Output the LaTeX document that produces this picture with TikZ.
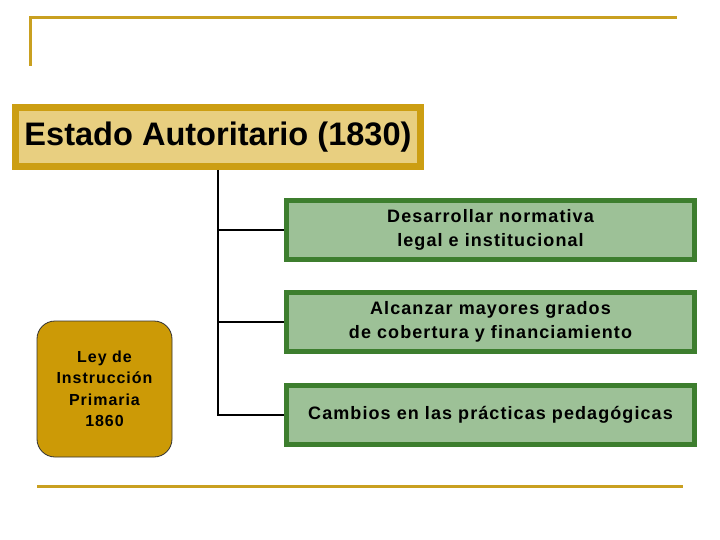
\documentclass[tikz,border=0pt]{standalone}
\usepackage{fontspec}
\setmainfont{Liberation Sans}
\definecolor{goldline}{HTML}{C9A020}
\definecolor{goldborder}{HTML}{CC9E12}
\definecolor{goldfill}{HTML}{E8CF80}
\definecolor{greenborder}{HTML}{3D7E2E}
\definecolor{greenfill}{HTML}{9DC197}
\definecolor{leyfill}{HTML}{CC9A06}
\begin{document}
\begin{tikzpicture}[x=1pt,y=-1pt,
  goldrule/.style={draw=goldline,line width=3pt},
  titlebox/.style={draw=goldborder,fill=goldfill,line width=7pt,minimum width=405pt,minimum height=59pt,inner sep=0pt,font=\bfseries\fontsize{31}{36}\selectfont},
  greenbox/.style={draw=greenborder,fill=greenfill,line width=5pt,minimum width=408pt,minimum height=59pt,inner sep=0pt,align=center,font=\bfseries\fontsize{18}{24}\selectfont\addfontfeature{LetterSpace=6}},
  leybox/.style={draw=black!80,fill=leyfill,line width=0.8pt,rounded corners=18pt,minimum width=135pt,minimum height=136pt,inner sep=0pt,align=center,font=\bfseries\fontsize{16}{21.5}\selectfont\addfontfeature{LetterSpace=6}},
  connector/.style={draw=black,line width=2.5pt}]
\useasboundingbox (0,0) rectangle (720,540);
\fill[white] (0,0) rectangle (720,540);
\coordinate (tl) at (30,18);
\coordinate (tr) at (677,18);
\coordinate (tb) at (30,66);
\draw[goldrule] (tr) -- (tl) -- (tb);
\coordinate (bl) at (37,486);
\coordinate (br) at (683,486);
\draw[goldrule] (bl) -- (br);
\node[titlebox] (title) at (218,137) {\raisebox{-3pt}{\scalebox{1.05}[1.05]{Estado Autoritario (1830)}}};
\node[greenbox] (g1) at (490.5,230) {Desarrollar normativa\\legal e institucional};
\node[greenbox] (g2) at (490.5,322) {Alcanzar mayores grados\\de cobertura y financiamiento};
\node[greenbox] (g3) at (490.5,415) {\raisebox{-2.5pt}{Cambios en las prácticas pedagógicas}};
\node[leybox] (ley) at (104.5,389) {Ley de\\Instrucción\\Primaria\\1860};
\coordinate (j3) at (218,415);
\draw[connector] (title.south) -- (j3) -- (g3.west);
\draw[connector] (g1.west -| j3) -- (g1.west);
\draw[connector] (g2.west -| j3) -- (g2.west);
\end{tikzpicture}
\end{document}
